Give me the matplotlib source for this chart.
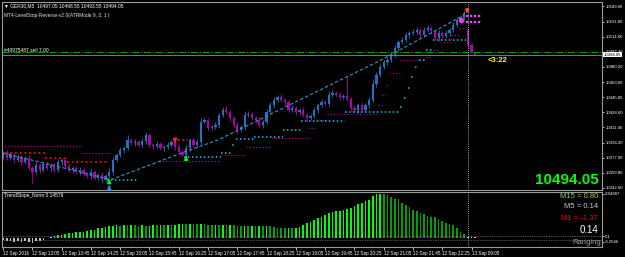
import matplotlib.pyplot as plt
from matplotlib.transforms import blended_transform_factory

W, H = 625, 257

# ---- candles (GER30, M5), bar index 0 = 12 Sep 12:25 ----
opens = [10378.0, 10382.3, 10376.6, 10380.1, 10374.4, 10377.8, 10372.1, 10376.6, 10365.3, 10360.7,
         10368.7, 10363.0, 10369.8, 10365.3, 10368.7, 10363.0, 10372.1, 10374.4, 10367.5, 10363.0,
         10365.3, 10360.7, 10363.0, 10358.4, 10356.2, 10360.7, 10353.9, 10357.3, 10351.6, 10356.2,
         10360.7, 10374.4, 10380.1, 10385.7, 10388.0, 10397.1, 10393.7, 10394.8, 10391.4, 10396.0,
         10402.8, 10391.4, 10390.3, 10392.6, 10388.0, 10389.2, 10391.4, 10394.8, 10389.2, 10383.5,
         10380.1, 10388.0, 10397.1, 10391.4, 10394.8, 10417.6, 10419.9, 10410.8, 10411.9, 10414.2,
         10425.6, 10431.3, 10429.0, 10422.2, 10414.2, 10408.5, 10411.9, 10425.6, 10426.7, 10422.2,
         10419.9, 10414.2, 10417.6, 10429.0, 10436.9, 10442.6, 10446.0, 10442.6, 10440.4, 10431.3,
         10433.5, 10429.0, 10431.3, 10425.6, 10422.2, 10424.4, 10431.3, 10436.9, 10440.4, 10438.1,
         10448.3, 10450.6, 10448.3, 10446.0, 10447.2, 10443.8, 10433.5, 10431.3, 10436.9, 10431.3,
         10436.9, 10442.6, 10460.8, 10471.1, 10480.2, 10485.9, 10488.1, 10493.8, 10501.8, 10508.6,
         10510.9, 10516.6, 10518.9, 10520.0, 10522.3, 10516.6, 10522.3, 10524.5, 10521.1, 10513.2,
         10518.9, 10515.4, 10518.9, 10522.3, 10528.0, 10533.6, 10535.9, 10522.3, 10505.2, 10497.2]
closes = [10382.3, 10376.6, 10380.1, 10374.4, 10377.8, 10372.1, 10376.6, 10365.3, 10360.7, 10368.7,
          10363.0, 10369.8, 10365.3, 10368.7, 10363.0, 10372.1, 10374.4, 10367.5, 10363.0, 10365.3,
          10360.7, 10363.0, 10358.4, 10356.2, 10360.7, 10353.9, 10357.3, 10351.6, 10356.2, 10360.7,
          10374.4, 10380.1, 10385.7, 10388.0, 10397.1, 10393.7, 10394.8, 10391.4, 10396.0, 10402.8,
          10391.4, 10390.3, 10392.6, 10388.0, 10389.2, 10391.4, 10394.8, 10389.2, 10383.5, 10380.1,
          10388.0, 10397.1, 10391.4, 10394.8, 10417.6, 10419.9, 10410.8, 10411.9, 10414.2, 10425.6,
          10431.3, 10429.0, 10422.2, 10414.2, 10408.5, 10411.9, 10425.6, 10426.7, 10422.2, 10419.9,
          10414.2, 10417.6, 10429.0, 10436.9, 10442.6, 10446.0, 10442.6, 10440.4, 10431.3, 10433.5,
          10429.0, 10431.3, 10425.6, 10422.2, 10424.4, 10431.3, 10436.9, 10440.4, 10438.1, 10448.3,
          10450.6, 10448.3, 10446.0, 10447.2, 10443.8, 10433.5, 10431.3, 10436.9, 10431.3, 10436.9,
          10442.6, 10460.8, 10471.1, 10480.2, 10485.9, 10488.1, 10493.8, 10501.8, 10508.6, 10510.9,
          10516.6, 10518.9, 10520.0, 10522.3, 10516.6, 10522.3, 10524.5, 10521.1, 10513.2, 10518.9,
          10515.4, 10518.9, 10522.3, 10528.0, 10533.6, 10535.9, 10541.6, 10505.2, 10497.2, 10494.05]
upper_wick = [2, 3, 2, 2, 3, 2, 2, 3, 2, 3,
              2, 2, 3, 2, 2, 3, 2, 2, 3, 2,
              2, 3, 2, 2, 3, 2, 2, 3, 2, 4,
              3, 2, 3, 2, 6, 2, 3, 2, 3, 3,
              2, 2, 3, 2, 2, 3, 2, 2, 3, 2,
              3, 2, 2, 3, 5, 3, 2, 2, 3, 2,
              3, 4, 2, 2, 3, 2, 4, 3, 2, 2,
              3, 2, 3, 3, 3, 2, 3, 2, 2, 3,
              2, 2, 3, 2, 2, 3, 2, 3, 2, 4,
              3, 2, 3, 2, 21, 2, 3, 2, 3, 2,
              3, 4, 3, 3, 2, 3, 3, 3, 2, 3,
              3, 2, 3, 3, 2, 3, 3, 2, 2, 3,
              2, 3, 2, 3, 3, 3, 3.5, 2, 2, 1.5]
lower_wick = [3, 2, 2, 3, 2, 3, 2, 2, 12, 2,
              3, 2, 2, 3, 2, 2, 3, 2, 2, 3,
              2, 3, 2, 2, 3, 2, 2, 3, 2, 2,
              3, 2, 2, 3, 2, 2, 3, 2, 2, 3,
              2, 3, 2, 2, 3, 2, 2, 3, 2, 2.5,
              2, 3, 2, 2, 3, 2, 3, 2, 2, 3,
              2, 2, 3, 2, 5, 2, 3, 2, 2, 3,
              2, 3, 2, 2, 3, 2, 2, 3, 2, 2,
              3, 2, 2, 3, 2, 2, 3, 2, 2, 3,
              2, 2, 3, 2, 2, 3, 2, 3, 2, 2,
              3, 2, 3, 2, 2, 3, 2, 2, 3, 2,
              2, 3, 2, 2, 3, 2, 2, 3, 2, 3,
              2, 2, 3, 2, 2, 3, 2, 2, 1.5, 1]

# TrendSlope_Norm histogram
slope_norm = [-0.15, -0.2, -0.18, -0.25, -0.22, -0.28, -0.2, -0.25, -0.3, -0.22,
              -0.18, -0.12, 0.03, 0.06, 0.13, 0.19, 0.22, 0.24, 0.3, 0.34,
              0.37, 0.38, 0.4, 0.47, 0.49, 0.51, 0.62, 0.66, 0.68, 0.77,
              0.79, 0.81, 0.8, 0.82, 0.81, 0.83, 0.82, 0.8, 0.81, 0.79,
              0.8, 0.82, 0.81, 0.83, 0.82, 0.84, 0.83, 0.85, 0.88, 0.9,
              0.89, 0.91, 0.9, 0.88, 0.9, 0.87, 0.85, 0.84, 0.86, 0.84,
              0.85, 0.83, 0.84, 0.82, 0.78, 0.77, 0.78, 0.76, 0.77, 0.75,
              0.76, 0.74, 0.76, 0.75, 0.72, 0.66, 0.63, 0.62, 0.63, 0.61,
              0.64, 0.72, 0.85, 0.94, 1.05, 1.15, 1.26, 1.37, 1.48, 1.58,
              1.68, 1.72, 1.75, 1.8, 1.83, 1.92, 2.05, 2.15, 2.25, 2.35,
              2.43, 2.68, 2.83, 2.85, 2.83, 2.74, 2.6, 2.52, 2.47, 2.22,
              2.12, 2.0, 1.8, 1.7, 1.6, 1.54, 1.41, 1.37, 1.33, 1.2,
              1.11, 0.98, 0.9, 0.83, 0.62, 0.4, 0.26, 0.06, 0.05, 0.04]

# stop levels: (first bar, last bar, price)
buy_stop = [(29, 36, 10351.6), (50, 59, 10377.8), (60, 62, 10382.3), (63, 63, 10391.4),
            (64, 68, 10398.3), (69, 76, 10400.6), (77, 81, 10408.5), (82, 93, 10418.8),
            (94, 108, 10429.0), (109, 109, 10434.7), (110, 110, 10444.9), (111, 111, 10456.3),
            (112, 112, 10468.8), (113, 113, 10480.2), (114, 115, 10488.1), (116, 117, 10499.5),
            (118, 126, 10510.9)]
sell_stop = [(0, 11, 10382.3), (12, 17, 10376.6), (18, 28, 10372.1), (47, 50, 10397.1)]
atr_stop = [(0, 21, 10390.3), (22, 29, 10382.3), (43, 59, 10373.2), (60, 66, 10380.1),
            (67, 73, 10389.2), (74, 83, 10399.4), (84, 85, 10410.8), (86, 88, 10419.9),
            (89, 102, 10426.7), (103, 103, 10436.9), (104, 104, 10448.3), (105, 105, 10459.7),
            (106, 108, 10473.3), (109, 115, 10488.1), (116, 117, 10491.6), (118, 119, 10499.5),
            (120, 122, 10508.6), (123, 124, 10516.6), (125, 126, 10524.5)]
reverse_levels = [10538.2, 10531.4]
trend_bars = [0, 29.5, 49.5, 58.7, 103.3, 126]
trend_prices = [10382.3, 10352.0, 10383.5, 10397.1, 10488.1, 10539.3]

# arrows: (bar, tail price, tip price, colour)
arrows = [(29, 10347.0, 10356.0, '#00FF00'), (29, 10340.5, 10349.0, '#1E90FF'),
          (47, 10399.0, 10390.5, '#FF2020'), (50, 10373.5, 10382.5, '#00FF00'),
          (126.8, 10549.5, 10537.5, '#FF5020')]

price_ticks = [10342.60, 10359.80, 10377.00, 10394.20, 10411.40, 10428.60, 10445.80,
               10463.00, 10480.20, 10497.40, 10514.60, 10531.80, 10549.00]
time_ticks = [0, 8, 16, 24, 32, 40, 48, 56, 64, 72, 80, 88, 96, 104, 112, 120, 128]
time_labels = ["12 Sep 2016", "12 Sep 13:05", "12 Sep 13:45", "12 Sep 14:25", "12 Sep 15:05",
               "12 Sep 15:45", "12 Sep 16:25", "12 Sep 17:05", "12 Sep 17:45", "12 Sep 18:25",
               "12 Sep 19:05", "12 Sep 19:45", "12 Sep 20:25", "12 Sep 21:05", "12 Sep 21:45",
               "12 Sep 22:25", "13 Sep 09:05"]
bid = 10494.05
order_price = 10497.2

plt.rcParams['font.family'] = ['Liberation Sans', 'DejaVu Sans']


def box(x0, y0, x1, y1):
    return [x0 / W, 1 - y1 / H, (x1 - x0) / W, (y1 - y0) / H]


fig = plt.figure(figsize=(6.25, 2.57), dpi=100, facecolor='black')
ax = fig.add_axes(box(2, 2, 602, 190), facecolor='black')
ax2 = fig.add_axes(box(2, 192, 602, 247), facecolor='black')

xmax = -0.3 + 600 / 3.66
for a in (ax, ax2):
    a.set_xlim(-0.3, xmax)
    for s in a.spines.values():
        s.set_color('#9a9a9a')
        s.set_linewidth(0.8)
ax.set_ylim(10340.2, 10554.1)
ax2.set_ylim(-0.577, 2.949)

# candles
for i in range(len(closes)):
    o, c = opens[i], closes[i]
    col = '#2272C0' if c >= o else '#B000B0'
    hi = max(o, c) + upper_wick[i]
    lo = min(o, c) - lower_wick[i]
    ax.vlines(i, lo, hi, color=col, lw=0.6)
    ax.bar(i, max(abs(c - o), 0.6), bottom=min(o, c), width=0.62, color=col, lw=0)


def steps(levels, color, lw):
    for first, last, price in levels:
        ax.plot([first - 0.5, last + 0.5], [price, price], color=color, lw=lw,
                ls=(0, (1, 1.6)), solid_capstyle='butt', dash_capstyle='butt')


steps(atr_stop, '#A000A0', 0.9)
steps(sell_stop, '#FF0000', 1.3)
steps(buy_stop, '#00C8F0', 1.1)
ax.plot(trend_bars, trend_prices, color='#2E9AC8', lw=0.8, ls=(0, (3, 2)))
for lvl in reverse_levels:
    ax.plot([126.5, 130.5], [lvl, lvl], color='#FF40FF', lw=1.6, ls=(0, (1, 0.8)))
ax.plot([125], [10533.6], 'o', color='#E040E0', ms=4, mec='none')

for bar, tail, tip, col in arrows:
    ax.annotate('', xy=(bar, tip), xytext=(bar, tail),
                arrowprops=dict(arrowstyle='-|>', color=col, lw=1.2, mutation_scale=5))

ax.axhline(order_price, color='#00A000', lw=0.8, ls='-.')
ax.axhline(bid, color='#8c8c8c', lw=0.6)
for a in (ax, ax2):
    a.axvline(127, color='#d0d0d0', lw=0.6, ls=(0, (1, 1.5)))

# price axis
ax.yaxis.tick_right()
ax.set_yticks(price_ticks)
ax.set_yticklabels(['%.2f' % p for p in price_ticks])
ax.tick_params(axis='y', colors='white', labelsize=3.1, length=1.5, width=0.5, pad=0.8)
ax.tick_params(axis='x', bottom=False, labelbottom=False)
tr = blended_transform_factory(ax.transAxes, ax.transData)
ax.text(1.003, bid, '%.2f' % bid, transform=tr, fontsize=3.1, color='black', va='center',
        ha='left', bbox=dict(facecolor='white', edgecolor='none', pad=0.5))

# histogram
colors = []
prev = slope_norm[0]
for v in slope_norm:
    if v < 0.1:
        colors.append('#BEBEBE')
    elif v >= prev:
        colors.append('#00FF00')
    else:
        colors.append('#00A000')
    prev = v
ax2.bar(range(len(slope_norm)), slope_norm, width=0.45, color=colors, lw=0)
for lvl in (0.1, -0.1):
    ax2.axhline(lvl, color='#9a9a9a', lw=0.5, ls=(0, (1, 1.5)))
ax2.yaxis.tick_right()
ax2.set_yticks([2.84987, 0.1, -0.2546])
ax2.set_yticklabels(['2.84987', '0.1', '-0.2546'])
ax2.tick_params(axis='y', colors='white', labelsize=3.1, length=1.5, width=0.5, pad=0.8)
ax2.set_xticks(time_ticks)
ax2.set_xticklabels(time_labels, ha='left')
ax2.tick_params(axis='x', colors='white', labelsize=3.3, length=2, width=0.5, pad=1)


def ftext(x, y, s, **kw):
    fig.text(x / W, 1 - y / H, s, va='center', **kw)


ftext(4, 6, '\u25bc GER30,M5  10497.05 10498.55 10493.55 10494.05', color='white', fontsize=3.5)
ftext(4, 15, 'MT4-LevelStop-Reverse-v2.0(ATRMode 9, 3, 1 )', color='#e0e0ff', fontsize=3.5)
ftext(4, 50, '#40975487 sell 7.00', color='white', fontsize=3.5)
ftext(488, 60, '<3:22', color='#FFFF00', fontsize=5.5, fontweight='bold')
ftext(599, 180, '10494.05', color='#00FF00', fontsize=11, fontweight='bold', ha='right')
ftext(4, 196, 'TrendSlope_Norm 0.14579', color='white', fontsize=3.5)
ftext(598, 196, 'M15 = 0.80', color='#9ACD32', fontsize=5.5, ha='right')
ftext(598, 207, 'M5 = 0.14', color='#C8CCD4', fontsize=5.5, ha='right')
ftext(598, 218, 'M1 = -1.37', color='#FF0000', fontsize=5.5, ha='right')
ftext(598, 230, '0.14', color='white', fontsize=7, ha='right')
ftext(601, 242, 'Ranging', color='#A8A8A8', fontsize=5.5, ha='right')

fig.savefig('out.png', dpi=100, facecolor='black')
